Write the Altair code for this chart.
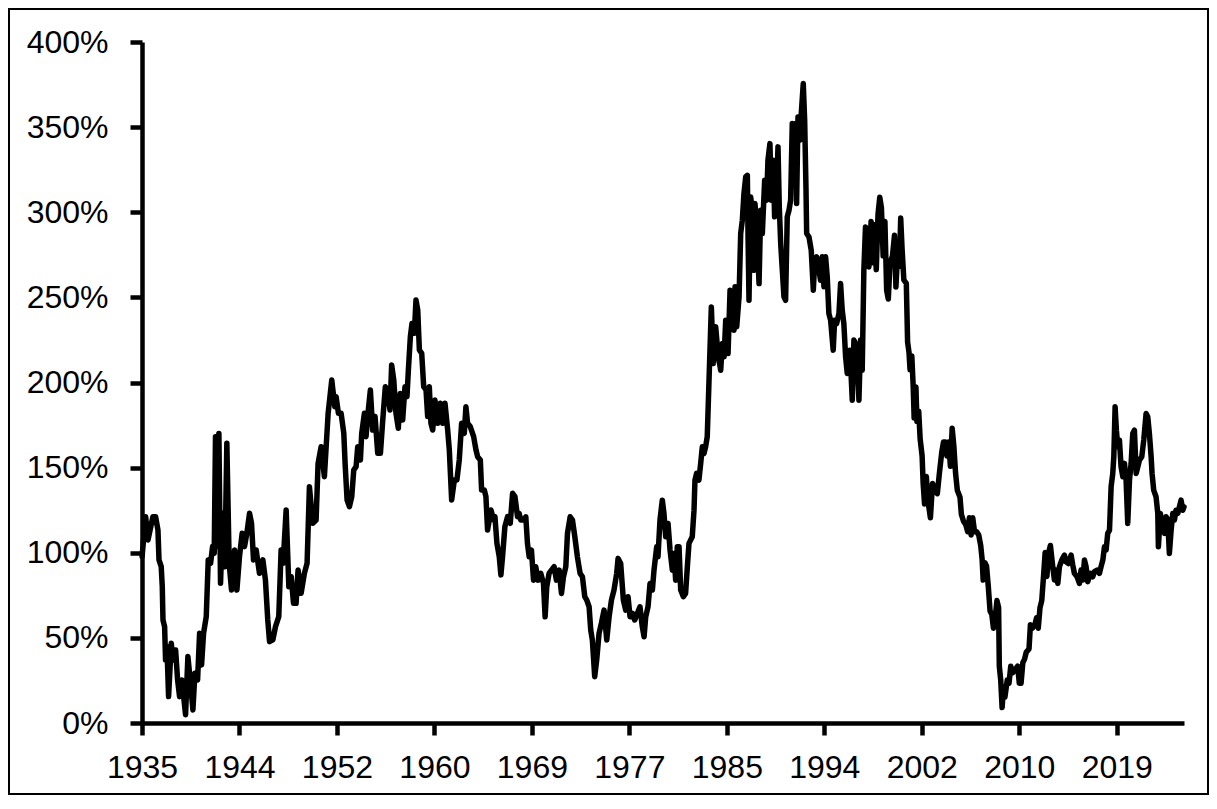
import altair as alt
import pandas as pd

# (decimal year, value in %), by era
seg_1935_1952 = [
    (1935.92, 97.7), (1936.23, 121.2), (1936.43, 107.5), (1936.85, 121.2), (1937.08, 121.2),
    (1937.28, 113.4), (1937.37, 95.8), (1937.56, 91.8), (1937.65, 80.1), (1937.71, 60.5),
    (1937.85, 56.6), (1937.93, 37.0), (1938.05, 44.9), (1938.19, 15.5), (1938.42, 46.8),
    (1938.56, 37.0), (1938.79, 42.9), (1938.96, 25.3), (1939.13, 15.5), (1939.33, 25.3),
    (1939.64, 4.8), (1939.84, 39.0), (1940.04, 25.3), (1940.27, 7.7), (1940.44, 29.2),
    (1940.67, 25.3), (1940.84, 52.7), (1941.01, 34.1), (1941.18, 52.7), (1941.41, 62.5),
    (1941.58, 95.8), (1941.78, 93.8), (1941.95, 103.6), (1942.09, 99.7), (1942.20, 168.2),
    (1942.35, 103.6), (1942.49, 170.1), (1942.63, 82.1), (1942.83, 123.2), (1943.00, 91.8),
    (1943.17, 164.3), (1943.37, 93.8), (1943.57, 78.1), (1943.83, 101.6), (1944.03, 78.1),
    (1944.25, 97.7), (1944.48, 111.4), (1944.68, 103.6), (1944.88, 111.4), (1945.11, 123.2),
    (1945.28, 117.3), (1945.45, 95.8), (1945.68, 101.6), (1945.96, 87.9), (1946.25, 95.8),
    (1946.47, 84.0), (1946.67, 60.5), (1946.82, 47.8), (1947.10, 48.8), (1947.33, 56.6),
    (1947.61, 62.5), (1947.81, 101.6), (1947.98, 93.8), (1948.24, 125.1), (1948.47, 80.1),
    (1948.67, 86.0), (1948.87, 70.3), (1949.09, 70.3), (1949.26, 89.9), (1949.52, 76.2),
    (1949.80, 87.9), (1950.03, 93.8), (1950.23, 138.8), (1950.52, 117.3), (1950.80, 119.2),
    (1950.97, 152.5), (1951.23, 162.3), (1951.51, 144.7), (1951.83, 181.9), (1952.14, 201.5),
    (1952.40, 185.8),
]
seg_1952_1968 = [
    (1952.51, 191.7), (1952.71, 181.9), (1952.94, 181.9), (1953.17, 170.1), (1953.28, 152.5),
    (1953.45, 131.0), (1953.65, 127.1), (1953.85, 133.0), (1954.02, 148.6), (1954.22, 150.6),
    (1954.36, 162.3), (1954.59, 154.5), (1954.70, 170.1), (1954.93, 181.9), (1955.07, 168.2),
    (1955.21, 180.0), (1955.44, 195.6), (1955.64, 172.1), (1955.84, 180.0), (1956.07, 158.4),
    (1956.30, 158.4), (1956.50, 178.0), (1956.72, 197.5), (1956.92, 195.6), (1957.12, 183.8),
    (1957.26, 210.3), (1957.44, 201.5), (1957.63, 181.9), (1957.83, 173.1), (1958.00, 193.6),
    (1958.20, 178.0), (1958.40, 197.5), (1958.57, 191.7), (1958.69, 207.3), (1958.86, 226.9),
    (1959.00, 234.7), (1959.20, 228.9), (1959.34, 248.4), (1959.49, 242.6), (1959.63, 219.1),
    (1959.83, 217.1), (1960.00, 197.5), (1960.20, 195.6), (1960.34, 180.0), (1960.48, 197.5),
    (1960.62, 176.0), (1960.77, 172.1), (1960.96, 189.7), (1961.19, 176.0), (1961.42, 187.8),
    (1961.62, 176.0), (1961.82, 187.8), (1962.05, 172.1), (1962.19, 160.4), (1962.39, 131.0),
    (1962.62, 142.7), (1962.84, 142.7), (1963.04, 154.5), (1963.24, 176.0), (1963.47, 170.1),
    (1963.61, 185.8), (1963.75, 176.0), (1963.98, 174.1), (1964.27, 168.2), (1964.47, 160.4),
    (1964.61, 156.4), (1964.84, 154.5), (1964.95, 136.9), (1965.18, 136.9), (1965.32, 133.0),
    (1965.46, 113.4), (1965.75, 125.1), (1965.98, 119.2), (1966.09, 121.2), (1966.26, 105.5),
    (1966.46, 97.7), (1966.60, 87.0), (1966.74, 97.7), (1966.94, 115.3), (1967.17, 121.2),
    (1967.40, 117.3), (1967.60, 134.9), (1967.80, 133.0), (1968.02, 121.2),
]
seg_1968_1984 = [
    (1968.16, 123.1), (1968.30, 119.2), (1968.53, 119.2), (1968.73, 121.1), (1968.87, 105.5),
    (1969.02, 97.6), (1969.21, 101.6), (1969.39, 83.9), (1969.58, 91.8), (1969.78, 83.9),
    (1970.01, 87.9), (1970.24, 82.0), (1970.38, 62.4), (1970.52, 80.0), (1970.72, 87.9),
    (1970.92, 89.8), (1971.15, 91.8), (1971.35, 83.9), (1971.58, 89.8), (1971.78, 76.1),
    (1971.95, 85.9), (1972.15, 91.8), (1972.29, 111.3), (1972.52, 121.1), (1972.72, 119.2),
    (1972.92, 109.4), (1973.14, 97.6), (1973.37, 87.9), (1973.57, 85.9), (1973.77, 74.2),
    (1973.94, 72.2), (1974.14, 68.3), (1974.28, 54.6), (1974.42, 48.7), (1974.62, 27.2),
    (1974.79, 37.0), (1974.99, 52.6), (1975.19, 58.5), (1975.42, 66.3), (1975.65, 48.7),
    (1975.85, 62.4), (1976.05, 72.2), (1976.27, 78.1), (1976.50, 87.9), (1976.62, 96.7),
    (1976.84, 93.7), (1977.07, 72.2), (1977.27, 66.3), (1977.47, 74.2), (1977.64, 62.4),
    (1977.84, 64.4), (1978.04, 60.5), (1978.27, 64.4), (1978.49, 68.3), (1978.69, 56.5),
    (1978.84, 50.7), (1978.98, 62.4), (1979.18, 68.3), (1979.35, 82.0), (1979.55, 78.1),
    (1979.69, 89.8), (1979.92, 103.5), (1980.03, 97.6), (1980.20, 119.2), (1980.40, 130.9),
    (1980.54, 123.1), (1980.69, 109.4), (1980.89, 117.2), (1981.06, 101.6), (1981.26, 89.8),
    (1981.40, 99.6), (1981.54, 83.9), (1981.68, 103.5), (1981.83, 103.5), (1981.97, 78.1),
    (1982.20, 74.2), (1982.39, 76.1), (1982.54, 91.8), (1982.68, 105.5), (1982.96, 109.4),
    (1983.11, 125.0), (1983.19, 142.7), (1983.33, 146.6), (1983.53, 142.7), (1983.68, 152.5),
    (1983.82, 162.2), (1983.96, 158.3), (1984.10, 162.2), (1984.24, 168.1),
]
seg_1984_1998 = [
    (1984.59, 244.4), (1984.77, 211.2), (1984.96, 232.7), (1985.16, 217.0), (1985.39, 207.2),
    (1985.53, 222.9), (1985.68, 215.1), (1985.82, 236.6), (1986.02, 217.0), (1986.19, 254.2),
    (1986.39, 246.4), (1986.53, 230.7), (1986.62, 256.2), (1986.76, 232.7), (1986.96, 250.3),
    (1987.10, 287.5), (1987.24, 295.3), (1987.38, 311.0), (1987.53, 320.8), (1987.67, 321.7),
    (1987.73, 285.5), (1987.81, 248.3), (1987.95, 309.0), (1988.10, 301.2), (1988.24, 265.9),
    (1988.32, 305.1), (1988.47, 291.4), (1988.67, 258.1), (1988.81, 301.2), (1988.95, 287.5),
    (1989.15, 318.8), (1989.32, 307.1), (1989.43, 330.5), (1989.60, 340.3), (1989.72, 307.1),
    (1989.89, 330.5), (1990.00, 297.3), (1990.12, 305.1), (1990.29, 338.4), (1990.40, 303.2),
    (1990.52, 281.6), (1990.66, 265.9), (1990.80, 250.3), (1990.94, 248.3), (1991.08, 297.3),
    (1991.23, 301.2), (1991.37, 307.1), (1991.51, 352.1), (1991.65, 342.3), (1991.80, 352.1),
    (1991.88, 305.1), (1992.00, 356.0), (1992.17, 342.3), (1992.28, 357.9), (1992.45, 375.6),
    (1992.57, 354.0), (1992.68, 314.9), (1992.74, 287.5), (1992.94, 285.5), (1993.13, 277.7),
    (1993.31, 254.2), (1993.42, 269.9), (1993.59, 273.8), (1993.79, 265.9), (1993.93, 260.1),
    (1994.07, 273.8), (1994.22, 256.2), (1994.36, 273.8), (1994.50, 262.0), (1994.64, 240.5),
    (1994.79, 236.6), (1995.01, 219.0), (1995.13, 236.6), (1995.30, 234.6), (1995.50, 240.5),
    (1995.64, 258.1), (1995.78, 242.5), (1995.92, 234.6), (1996.07, 215.1), (1996.21, 205.3),
    (1996.44, 219.0), (1996.64, 189.6), (1996.78, 224.9), (1996.92, 222.9), (1997.06, 215.1),
    (1997.21, 189.6), (1997.35, 224.9), (1997.49, 207.2), (1997.63, 265.9), (1997.77, 291.4),
    (1997.92, 283.6), (1998.06, 267.9),
]
seg_1998_2013 = [
    (1998.25, 294.6), (1998.40, 270.3), (1998.54, 292.6), (1998.69, 266.3), (1998.84, 298.7),
    (1998.99, 308.8), (1999.13, 302.7), (1999.28, 274.4), (1999.43, 294.6), (1999.58, 254.1),
    (1999.72, 249.0), (1999.87, 270.3), (2000.08, 274.4), (2000.25, 286.5), (2000.37, 256.1),
    (2000.55, 280.4), (2000.67, 268.3), (2000.78, 296.6), (2000.90, 278.4), (2001.05, 260.2),
    (2001.26, 258.2), (2001.37, 223.7), (2001.49, 217.7), (2001.58, 207.5), (2001.73, 215.6),
    (2001.85, 197.4), (2001.93, 179.2), (2002.08, 197.4), (2002.17, 177.2), (2002.32, 183.2),
    (2002.44, 167.0), (2002.61, 156.9), (2002.70, 140.7), (2002.82, 128.6), (2002.97, 144.8),
    (2003.11, 130.6), (2003.32, 120.5), (2003.50, 140.7), (2003.70, 136.7), (2003.91, 134.7),
    (2004.09, 146.8), (2004.29, 159.0), (2004.44, 165.0), (2004.59, 165.0), (2004.73, 156.9),
    (2004.88, 165.0), (2005.03, 150.8), (2005.18, 173.1), (2005.32, 163.0), (2005.47, 146.8),
    (2005.62, 136.7), (2005.85, 132.6), (2005.97, 122.5), (2006.15, 118.5), (2006.35, 116.4),
    (2006.50, 112.4), (2006.65, 120.5), (2006.80, 110.4), (2006.94, 120.5), (2007.09, 112.4),
    (2007.27, 112.4), (2007.45, 110.4), (2007.62, 104.3), (2007.74, 96.2), (2007.83, 84.0),
    (2007.98, 94.2), (2008.12, 92.1), (2008.27, 80.0), (2008.42, 65.8), (2008.57, 63.8),
    (2008.71, 55.7), (2008.86, 61.8), (2009.01, 71.9), (2009.15, 67.8), (2009.21, 33.4),
    (2009.33, 25.3), (2009.45, 9.1), (2009.57, 21.3), (2009.69, 15.2), (2009.89, 25.3),
    (2010.04, 23.3), (2010.19, 33.4), (2010.33, 29.4), (2010.57, 31.4), (2010.78, 33.4),
    (2010.92, 23.3), (2011.07, 23.3), (2011.22, 35.4), (2011.37, 37.5), (2011.51, 41.5),
    (2011.75, 43.5), (2011.87, 57.7), (2012.04, 55.7), (2012.25, 57.7), (2012.40, 61.8),
    (2012.54, 55.7), (2012.69, 67.8), (2012.84, 71.9), (2012.99, 86.1), (2013.13, 100.2),
    (2013.28, 86.1), (2013.43, 100.2), (2013.58, 104.3),
]
seg_2013_2025 = [
    (2013.78, 91.8), (2013.92, 84.0), (2014.07, 89.8), (2014.21, 82.0), (2014.35, 91.8),
    (2014.55, 95.7), (2014.78, 98.6), (2014.92, 94.7), (2015.12, 93.7), (2015.35, 98.6),
    (2015.49, 92.8), (2015.63, 87.9), (2015.86, 85.9), (2016.06, 82.0), (2016.20, 89.8),
    (2016.35, 84.0), (2016.49, 95.7), (2016.63, 91.8), (2016.77, 83.0), (2017.00, 87.9),
    (2017.20, 85.9), (2017.34, 88.9), (2017.57, 89.8), (2017.77, 87.9), (2017.91, 91.8),
    (2018.06, 95.7), (2018.20, 103.5), (2018.34, 101.6), (2018.48, 111.4), (2018.63, 113.3),
    (2018.77, 138.8), (2018.91, 146.6), (2019.00, 156.4), (2019.11, 185.7), (2019.22, 172.0),
    (2019.34, 162.3), (2019.48, 166.2), (2019.62, 150.5), (2019.77, 144.6), (2019.91, 152.5),
    (2020.05, 142.7), (2020.19, 117.2), (2020.34, 142.7), (2020.48, 152.5), (2020.62, 170.1),
    (2020.76, 172.0), (2020.91, 146.6), (2021.05, 150.5), (2021.19, 154.4), (2021.39, 156.4),
    (2021.56, 166.2), (2021.76, 181.8), (2021.90, 179.9), (2022.04, 170.1), (2022.19, 156.4),
    (2022.27, 146.6), (2022.41, 136.8), (2022.61, 132.9), (2022.76, 123.1), (2022.81, 103.5),
    (2022.98, 123.1), (2023.13, 117.2), (2023.33, 111.4), (2023.47, 121.1), (2023.61, 119.2),
    (2023.75, 99.6), (2023.90, 113.3), (2024.04, 123.1), (2024.18, 119.2), (2024.32, 125.0),
    (2024.47, 123.1), (2024.61, 127.0), (2024.75, 130.9), (2024.90, 125.0), (2025.00, 127.0),
]

# Axis ticks: one label every 100 months starting Dec 1935
x_start = 1935 + 11 / 12
x_end = 2025.0
x_ticks = [x_start + k * 100 / 12 for k in range(11)]
x_labels = ["1935", "1944", "1952", "1960", "1969", "1977", "1985", "1994", "2002", "2010", "2019"]
y_ticks = [0, 50, 100, 150, 200, 250, 300, 350, 400]

rows = []
for seg in [seg_1935_1952, seg_1952_1968, seg_1968_1984, seg_1984_1998, seg_1998_2013, seg_2013_2025]:
    for yr, v in seg:
        rows.append({"year": yr, "value": v})
df = pd.DataFrame(rows)

label_map = "{" + ",".join(f"'{i}':'{lab}'" for i, lab in enumerate(x_labels)) + "}"
x_label_expr = f"{label_map}[''+round((datum.value - {x_start}) * 12 / 100)]"

FONT = "'Liberation Sans', Arial, sans-serif"
W, H = 1042, 681
PAD = {"left": 134, "top": 34, "right": 25, "bottom": 72}

line = alt.Chart(df).mark_line(
    color="black", strokeWidth=5.5, strokeJoin="round", strokeCap="round"
).encode(
    x=alt.X(
        "year:Q",
        scale=alt.Scale(domain=[x_start, x_end], nice=False, zero=False),
        axis=alt.Axis(
            values=x_ticks, labelExpr=x_label_expr, title=None,
            labelPadding=17, labelBaseline="top", labelFlush=False,
            labelOverlap=False, labelAlign="center",
        ),
    ),
    y=alt.Y(
        "value:Q",
        scale=alt.Scale(domain=[0, 400], nice=False),
        axis=alt.Axis(values=y_ticks, labelExpr="datum.value + '%'", title=None,
                      labelPadding=22, labelFlush=False, labelOverlap=False),
    ),
)

frame = alt.Chart(pd.DataFrame({"k": [0]})).mark_rect(
    fill="white", fillOpacity=0, stroke="black", strokeWidth=2
).encode(
    x=alt.value(-PAD["left"] + 1),
    x2=alt.value(W + PAD["right"] - 1),
    y=alt.value(-PAD["top"] + 1),
    y2=alt.value(H + PAD["bottom"] - 1),
)

chart = alt.layer(frame, line).properties(
    width=W, height=H, padding=PAD,
    autosize=alt.AutoSizeParams(type="none"),
    background="white",
).configure_view(
    strokeWidth=0
).configure_axis(
    grid=False,
    domainColor="black", domainWidth=4.5,
    tickColor="black", tickWidth=4.5, tickSize=12,
    labelFont=FONT, labelFontSize=32, labelColor="black",
)

chart.save("out.html", embed_options={"renderer": "svg", "actions": False})
